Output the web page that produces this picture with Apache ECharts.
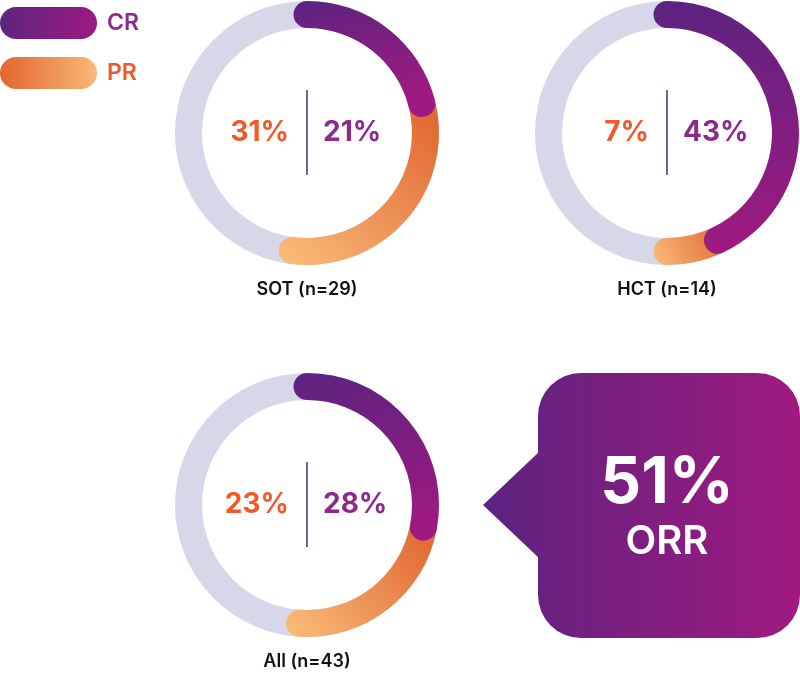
<!DOCTYPE html>
<html>
<head>
<meta charset="utf-8">
<script src="https://cdn.jsdelivr.net/npm/echarts@6/dist/echarts.min.js"></script>
<style>html,body{margin:0;padding:0;background:#fff;}#chart{width:800px;height:677px;}</style>
</head>
<body>
<div id="chart"></div>
<script>
// ---- data ----
const groups = ['SOT (n=29)', 'HCT (n=14)', 'All (n=43)'];
const crValues = [21, 43, 28];
const prValues = [31, 7, 23];
const orrValue = 51;
const orrLabel = 'ORR';
const legendLabels = ['CR', 'PR'];

// ---- layout / style ----
const centers = [[307, 133], [667, 133], [307, 505]];
const R0 = 105, R1 = 132;
const FONT = 'Inter, "Noto Sans", sans-serif';
const crGrad = () => new echarts.graphic.LinearGradient(0, 0, 0.2, 1, [{offset: 0, color: '#5c2380'}, {offset: 1, color: '#9e1a80'}]);
const prGrad = () => new echarts.graphic.LinearGradient(1, 0, 0, 1, [{offset: 0, color: '#df5f2b'}, {offset: 1, color: '#f9bd7a'}]);
const crLegGrad = new echarts.graphic.LinearGradient(0, 0, 1, 0, [{offset: 0, color: '#5e2480'}, {offset: 1, color: '#9c1a80'}]);
const prLegGrad = new echarts.graphic.LinearGradient(0, 0, 1, 0, [{offset: 0, color: '#e2662f'}, {offset: 1, color: '#f8b979'}]);
const pill = 'path://M16,0 L81,0 A16,16 0 0 1 81,32 L16,32 A16,16 0 0 1 16,0 Z';

const polar = [], angleAxis = [], radiusAxis = [], series = [], graphic = [];
centers.forEach((c, i) => {
  polar.push({center: c, radius: [R0, R1]});
  angleAxis.push({polarIndex: i, type: 'value', min: 0, max: 100, startAngle: 90, clockwise: true, show: false});
  radiusAxis.push({polarIndex: i, type: 'category', data: [''], show: false});
  // grey track
  series.push({
    type: 'pie', silent: true, center: c, radius: [R0, R1], z: 1,
    label: {show: false}, labelLine: {show: false},
    itemStyle: {color: '#d7d7ea'}, data: [{value: 100, name: 'track'}]
  });
  // CR first in stack (from 12 o'clock), drawn on top
  series.push({
    type: 'bar', name: legendLabels[0], coordinateSystem: 'polar', polarIndex: i, stack: 's' + i,
    data: [crValues[i]], roundCap: true, barCategoryGap: '0%', z: 3,
    itemStyle: {color: crGrad()}
  });
  // PR stacked after CR
  series.push({
    type: 'bar', name: legendLabels[1], coordinateSystem: 'polar', polarIndex: i, stack: 's' + i,
    data: [prValues[i]], roundCap: true, barCategoryGap: '0%', z: 2,
    itemStyle: {color: prGrad()}
  });
  const [cx, cy] = c;
  graphic.push({type: 'line', shape: {x1: cx, y1: cy - 43, x2: cx, y2: cy + 42}, style: {stroke: '#37306b', lineWidth: 1.5}, z: 10});
  graphic.push({type: 'text', x: cx - 18, y: cy, style: {text: prValues[i] + '%', fill: '#f05a28', font: '700 28px ' + FONT, textAlign: 'right', textVerticalAlign: 'middle'}, z: 10});
  graphic.push({type: 'text', x: cx + 16, y: cy, style: {text: crValues[i] + '%', fill: '#8c2a8c', font: '700 28px ' + FONT, textAlign: 'left', textVerticalAlign: 'middle'}, z: 10});
  graphic.push({type: 'text', x: cx, y: cy + 157, style: {text: groups[i], fill: '#111111', font: '600 18px ' + FONT, textAlign: 'center', textVerticalAlign: 'middle'}, z: 10});
});

const calloutGrad = new echarts.graphic.LinearGradient(483, 0, 800, 0, [{offset: 0, color: '#5c2380'}, {offset: 1, color: '#a01a7f'}], true);
graphic.push({type: 'rect', shape: {x: 538, y: 373, width: 262, height: 265, r: 43}, style: {fill: calloutGrad}, z: 5});
graphic.push({type: 'polygon', shape: {points: [[483, 505], [540, 451], [540, 559]]}, style: {fill: calloutGrad}, z: 5});
graphic.push({type: 'text', x: 667, y: 484, style: {text: orrValue + '%', fill: '#ffffff', font: '700 64px ' + FONT, textAlign: 'center', textVerticalAlign: 'middle'}, z: 10});
graphic.push({type: 'text', x: 667, y: 542, style: {text: orrLabel, fill: '#ffffff', font: '600 40px ' + FONT, textAlign: 'center', textVerticalAlign: 'middle'}, z: 10});

const chart = echarts.init(document.getElementById('chart'));
chart.setOption({
  animation: false,
  legend: {
    left: 0, top: 7, padding: 0, orient: 'vertical', itemGap: 18,
    itemWidth: 97, itemHeight: 32, selectedMode: false,
    data: [
      {name: legendLabels[0], icon: pill, itemStyle: {color: crLegGrad}, textStyle: {color: '#8c2a8c'}},
      {name: legendLabels[1], icon: pill, itemStyle: {color: prLegGrad}, textStyle: {color: '#f05a28'}}
    ],
    textStyle: {fontFamily: FONT, fontSize: 23, fontWeight: 600, padding: [0, 0, 0, 5]}
  },
  polar, angleAxis, radiusAxis,
  series,
  graphic
});
</script>
</body>
</html>
